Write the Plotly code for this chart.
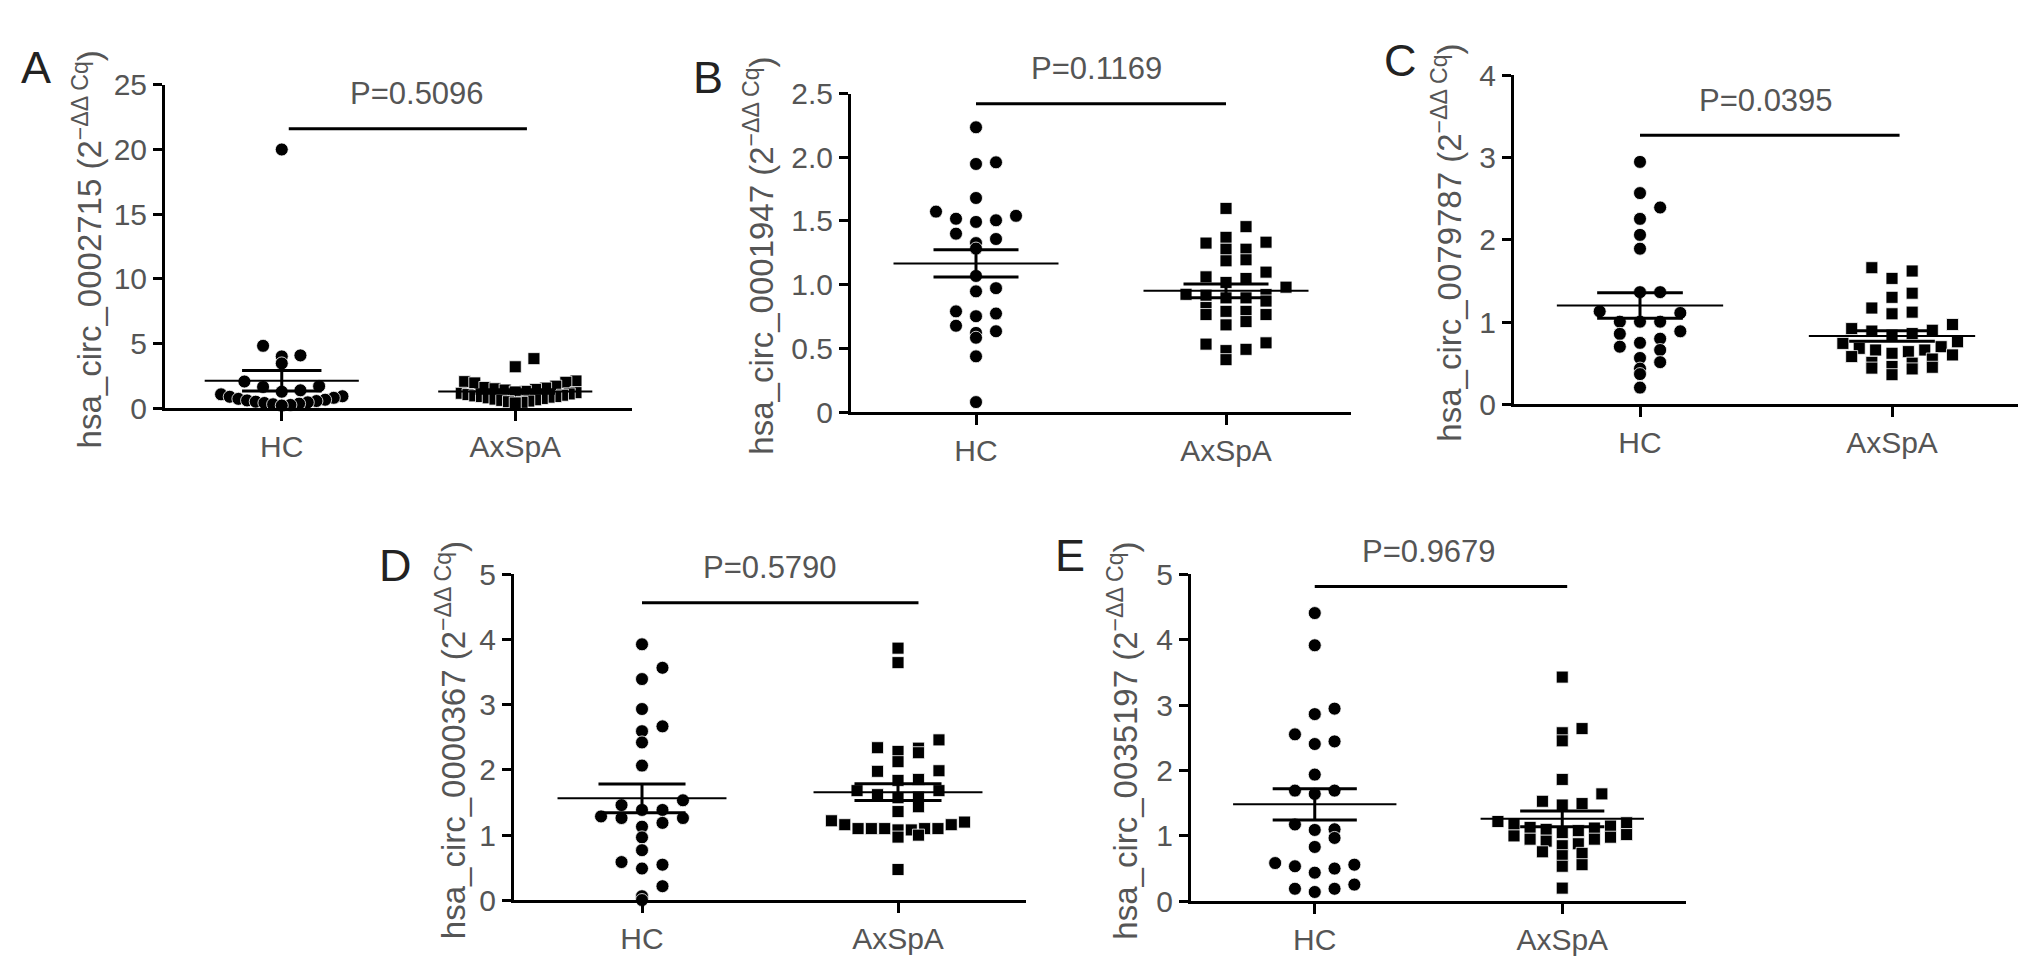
import numpy as np
import plotly.graph_objects as go

# categories
groups = ["HC", "AxSpA"]

# panel A: hsa_circ_0002715
a_hc = [20.0, 4.82, 4.08, 4.0, 3.46, 2.06, 1.7, 1.64, 1.38, 1.27, 1.07, 0.92, 0.88,
        0.8, 0.72, 0.65, 0.6, 0.55, 0.5, 0.45, 0.4, 0.35, 0.3, 0.25, 0.2]
a_axspa = [3.83, 3.2, 2.1, 2.05, 2.0, 1.95, 1.7, 1.6, 1.55, 1.5, 1.45, 1.4, 1.3, 1.25,
           1.2, 1.15, 1.1, 1.05, 1.0, 0.95, 0.9, 0.9, 0.85, 0.8, 0.75, 0.7, 0.65, 0.6,
           0.55, 0.5, 0.45, 0.4]

# panel B: hsa_circ_0001947
b_hc = [2.235, 1.96, 1.947, 1.68, 1.573, 1.54, 1.517, 1.505, 1.492, 1.40, 1.358, 1.326,
        1.283, 1.068, 0.972, 0.947, 0.79, 0.773, 0.752, 0.677, 0.634, 0.621, 0.583,
        0.437, 0.078]
b_axspa = [1.598, 1.455, 1.371, 1.333, 1.326, 1.278, 1.278, 1.195, 1.187, 1.098, 1.061,
           1.048, 1.017, 0.98, 0.924, 0.922, 0.917, 0.896, 0.896, 0.871, 0.82, 0.79,
           0.79, 0.765, 0.765, 0.71, 0.684, 0.543, 0.533, 0.492, 0.482, 0.411]

# panel C: hsa_circ_0079787
c_hc = [2.946, 2.567, 2.392, 2.254, 2.059, 1.891, 1.363, 1.363, 1.129, 1.11, 1.004,
        1.004, 1.004, 0.887, 0.856, 0.797, 0.747, 0.7, 0.66, 0.563, 0.512, 0.434,
        0.367, 0.203]
c_axspa = [1.66, 1.62, 1.53, 1.35, 1.30, 1.17, 1.12, 1.10, 0.97, 0.92, 0.90, 0.89, 0.86,
           0.84, 0.76, 0.74, 0.70, 0.68, 0.66, 0.66, 0.64, 0.62, 0.60, 0.58, 0.55, 0.51,
           0.50, 0.46, 0.45, 0.44, 0.43, 0.36]

# panel D: hsa_circ_0000367
d_hc = [3.925, 3.565, 3.392, 2.933, 2.667, 2.593, 2.421, 2.066, 1.534, 1.46, 1.386,
        1.386, 1.287, 1.262, 1.262, 1.188, 1.129, 0.966, 0.769, 0.587, 0.547, 0.488,
        0.217, 0.064, 0.005]
d_axspa = [3.866, 3.644, 2.46, 2.34, 2.333, 2.283, 2.263, 2.126, 1.987, 1.978, 1.854,
           1.839, 1.682, 1.682, 1.62, 1.583, 1.573, 1.435, 1.361, 1.22, 1.2, 1.16, 1.16,
           1.1, 1.1, 1.1, 1.1, 1.1, 1.08, 1.08, 1.0, 0.97, 0.473]

# panel E: hsa_circ_0035197
e_hc = [4.405, 3.913, 2.945, 2.861, 2.552, 2.444, 2.404, 1.937, 1.692, 1.692, 1.642,
        1.175, 1.101, 1.091, 0.969, 0.831, 0.585, 0.56, 0.536, 0.501, 0.438, 0.256,
        0.192, 0.192, 0.143]
e_axspa = [3.427, 2.64, 2.576, 2.453, 1.863, 1.642, 1.529, 1.494, 1.472, 1.22, 1.20,
           1.18, 1.15, 1.13, 1.12, 1.10, 1.08, 1.05, 1.02, 1.00, 0.98, 0.95, 0.95, 0.92,
           0.88, 0.85, 0.757, 0.733, 0.698, 0.56, 0.536, 0.202]

# y tick values / labels
ticks_a = [0, 5, 10, 15, 20, 25]
labels_a = ["0", "5", "10", "15", "20", "25"]
ticks_b = [0, 0.5, 1.0, 1.5, 2.0, 2.5]
labels_b = ["0", "0.5", "1.0", "1.5", "2.0", "2.5"]
ticks_c = [0, 1, 2, 3, 4]
labels_c = ["0", "1", "2", "3", "4"]
ticks_de = [0, 1, 2, 3, 4, 5]
labels_de = ["0", "1", "2", "3", "4", "5"]

genes = ["0002715", "0001947", "0079787", "0000367", "0035197"]
pvals = ["P=0.5096", "P=0.1169", "P=0.0395", "P=0.5790", "P=0.9679"]

W, H = 2032, 975
FONT = "Liberation Sans, Arial, Helvetica, sans-serif"
GREY = "#555555"


def fx(px):
    return px / W


def fy(px):
    return 1 - px / H


def swarm(vals, px_per_unit, row_px=12, step=0.08, max_half=0.26):
    # prism-like column scatter: group close values into rows, spread sideways
    v = np.asarray(vals, dtype=float)
    order = np.argsort(-v)
    offs = np.zeros(len(v))
    i = 0
    while i < len(order):
        top = v[order[i]]
        j = i
        while j < len(order) and top - v[order[j]] < row_px / px_per_unit:
            j += 1
        row = sorted(order[i:j], key=lambda k: v[k])
        n = len(row)
        s = step if n < 3 else min(step, max_half / (n // 2))
        slots = [0]
        k = 1
        while len(slots) < n:
            slots += [k, -k]
            k += 1
        for idx, slot in zip(row, slots[:n]):
            offs[idx] = slot * s
        i = j
    return offs


# layout positions (pixels in the 2032x975 page)
panels = [
    dict(hc=a_hc, ax=a_axspa, tv=ticks_a, tt=labels_a, top=25, box=(157, 624, 62, 397),
         bracket=21.6, span=(0.03, 1.05), px=0.58, letter="A", lxy=(28, 44), tx=80),
    dict(hc=b_hc, ax=b_axspa, tv=ticks_b, tt=labels_b, top=2.5, box=(843, 1343, 71, 401),
         bracket=2.42, span=(0.0, 1.0), px=0.48, letter="B", lxy=(700, 54), tx=751),
    dict(hc=c_hc, ax=c_axspa, tv=ticks_c, tt=labels_c, top=4, box=(1506, 2010, 52, 393),
         bracket=3.27, span=(0.0, 1.03), px=0.5, letter="C", lxy=(1392, 37), tx=1439),
    dict(hc=d_hc, ax=d_axspa, tv=ticks_de, tt=labels_de, top=5, box=(506, 1018, 569, 907),
         bracket=4.56, span=(0.0, 1.08), px=0.5, letter="D", lxy=(387, 560), tx=443),
    dict(hc=e_hc, ax=e_axspa, tv=ticks_de, tt=labels_de, top=5, box=(1183, 1678, 569, 908),
         bracket=4.81, span=(0.0, 1.02), px=0.46, letter="E", lxy=(1062, 550), tx=1115),
]

fig = go.Figure()
annotations = []
layout = {}

for i, p in enumerate(panels):
    n = "" if i == 0 else str(i + 1)
    xa, ya = "x" + n, "y" + n
    x0, x1, y0, y1 = p["box"]
    ppu = (y1 - y0) / p["top"]

    for c, (vals, sym, size) in enumerate([(p["hc"], "circle", 13), (p["ax"], "square", 12)]):
        fig.add_trace(go.Scatter(
            x=c + swarm(vals, ppu), y=vals, mode="markers", xaxis=xa, yaxis=ya,
            marker=dict(symbol=sym, size=size, color="black",
                        line=dict(color="white", width=0.8)),
            cliponaxis=False, showlegend=False, hoverinfo="y"))

        m = float(np.mean(vals))
        s = float(np.std(vals, ddof=1) / np.sqrt(len(vals)))
        fig.add_trace(go.Scatter(
            x=[c - 0.33, c + 0.33], y=[m, m], mode="lines", xaxis=xa, yaxis=ya,
            line=dict(color="black", width=2), showlegend=False, hoverinfo="skip"))
        fig.add_trace(go.Scatter(
            x=[c, c, None, c - 0.17, c + 0.17, None, c - 0.17, c + 0.17],
            y=[m - s, m + s, None, m + s, m + s, None, m - s, m - s],
            mode="lines", xaxis=xa, yaxis=ya, line=dict(color="black", width=3),
            showlegend=False, hoverinfo="skip"))

    # significance bracket
    fig.add_trace(go.Scatter(
        x=list(p["span"]), y=[p["bracket"], p["bracket"]], mode="lines",
        xaxis=xa, yaxis=ya, line=dict(color="black", width=3), cliponaxis=False,
        showlegend=False, hoverinfo="skip"))
    annotations.append(dict(
        x=p["px"], y=p["bracket"], xref=xa, yref=ya, text=pvals[i], showarrow=False,
        xanchor="center", yanchor="middle", yshift=35,
        font=dict(family=FONT, size=31, color=GREY)))

    annotations.append(dict(
        x=fx(p["lxy"][0]), y=fy(p["lxy"][1]), xref="paper", yref="paper",
        text=p["letter"], showarrow=False, xanchor="center", yanchor="middle",
        font=dict(family=FONT, size=45, color="#222")))
    annotations.append(dict(
        x=fx(p["tx"]), y=fy((y0 + y1) / 2 + 3), xref="paper", yref="paper",
        text="hsa_circ_" + genes[i] + " (2<sup>\u2212\u0394\u0394 Cq</sup>)",
        textangle=-90, showarrow=False, xanchor="center", yanchor="middle",
        font=dict(family=FONT, size=33, color=GREY)))

    axis_style = dict(showline=True, linecolor="black", linewidth=3, ticks="outside",
                      tickcolor="black", tickwidth=2.5, showgrid=False, zeroline=False,
                      tickfont=dict(family=FONT, size=30, color=GREY), fixedrange=True)
    layout["xaxis" + n] = dict(axis_style, domain=[fx(x0), fx(x1)], range=[-0.5, 1.5],
                               tickvals=[0, 1], ticktext=groups, ticklen=10, anchor=ya)
    layout["yaxis" + n] = dict(axis_style, domain=[fy(y1), fy(y0)], range=[0, p["top"]],
                               tickvals=p["tv"], ticktext=p["tt"], ticklen=9, anchor=xa)

fig.update_layout(
    width=W, height=H, margin=dict(l=0, r=0, t=0, b=0),
    plot_bgcolor="white", paper_bgcolor="white",
    annotations=annotations, showlegend=False, **layout)

fig.write_html("out.html")
